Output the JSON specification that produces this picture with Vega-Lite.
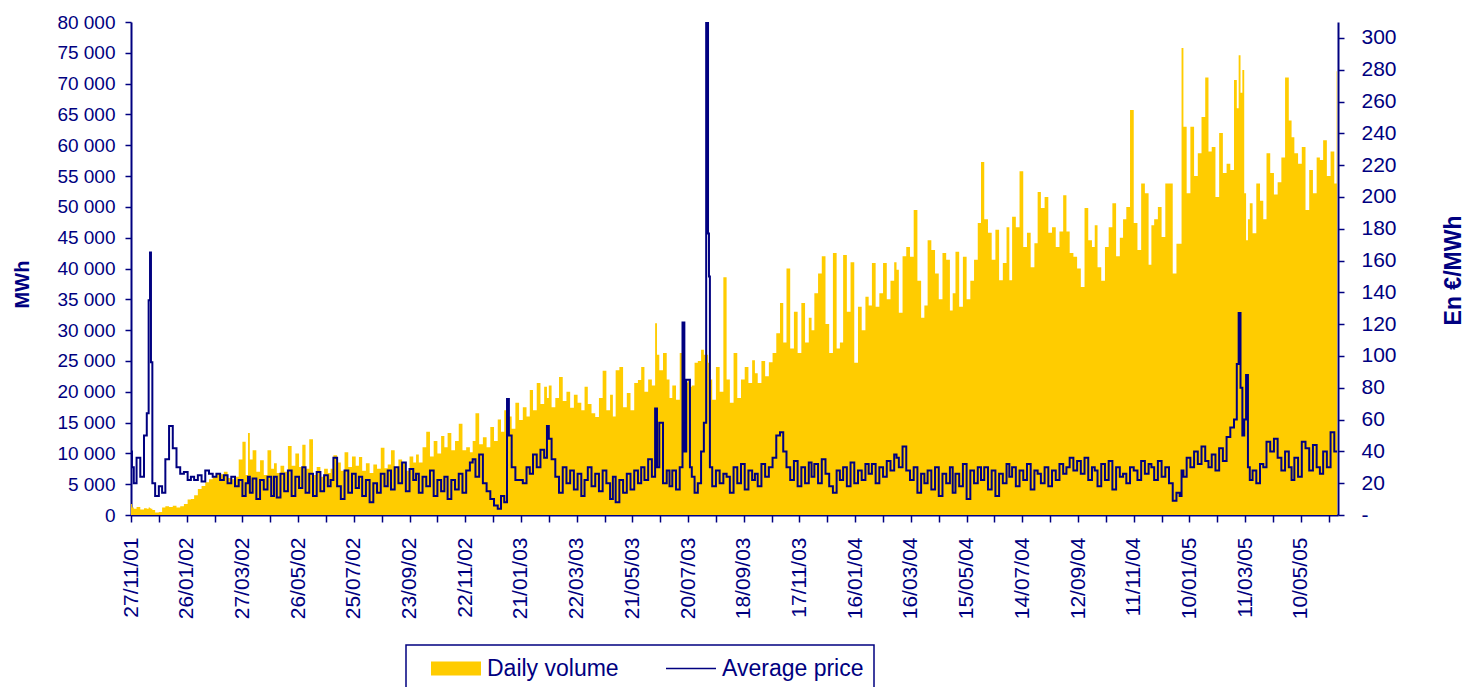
{
  "$schema": "https://vega.github.io/schema/vega-lite/v6.json",
  "autosize": {"type": "none"},
  "width": 1207,
  "height": 493,
  "padding": {"left": 131, "top": 22, "right": 127, "bottom": 172},
  "background": "#ffffff",
  "config": {
    "view": {"stroke": null},
    "legend": {"strokeWidth": 1.5},
    "axis": {"domainColor": "#000080", "domainWidth": 2, "tickColor": "#000080", "tickWidth": 1.5, "tickSize": 6, "labelColor": "#000080", "labelFont": "Liberation Sans", "titleColor": "#000080", "titleFont": "Liberation Sans", "grid": false}
  },
  "data": {"values": [
    {"d":"2001-11-27","v":1800,"p":40},{"d":"2001-11-29","v":1200,"p":30},
    {"d":"2001-12-01","v":1000,"p":20},{"d":"2001-12-05","v":1300,"p":36},{"d":"2001-12-09","v":900,"p":24},{"d":"2001-12-13","v":1100,"p":50},{"d":"2001-12-15","v":1000,"p":64},{"d":"2001-12-17","v":1200,"p":135},{"d":"2001-12-18","v":1100,"p":165},{"d":"2001-12-19","v":1000,"p":96},{"d":"2001-12-21","v":800,"p":20},{"d":"2001-12-25","v":400,"p":12},{"d":"2001-12-29","v":500,"p":18},
    {"d":"2002-01-01","v":1200,"p":14},{"d":"2002-01-05","v":1400,"p":35},{"d":"2002-01-09","v":1300,"p":56},{"d":"2002-01-13","v":1500,"p":42},{"d":"2002-01-17","v":1200,"p":30},{"d":"2002-01-21","v":1400,"p":26},{"d":"2002-01-25","v":1800,"p":27},{"d":"2002-01-29","v":2500,"p":22},
    {"d":"2002-02-01","v":2600,"p":24},{"d":"2002-02-05","v":3200,"p":22},{"d":"2002-02-09","v":4200,"p":25},{"d":"2002-02-13","v":4700,"p":21},{"d":"2002-02-17","v":5300,"p":28},{"d":"2002-02-21","v":5800,"p":26},{"d":"2002-02-25","v":6200,"p":24},
    {"d":"2002-03-01","v":6800,"p":26},{"d":"2002-03-05","v":6600,"p":22},{"d":"2002-03-09","v":7000,"p":25},{"d":"2002-03-13","v":6000,"p":20},{"d":"2002-03-17","v":5800,"p":24},{"d":"2002-03-21","v":6200,"p":18},{"d":"2002-03-25","v":9000,"p":22},{"d":"2002-03-29","v":11900,"p":12},
    {"d":"2002-04-01","v":6500,"p":20},{"d":"2002-04-03","v":13300,"p":24},{"d":"2002-04-05","v":9000,"p":14},{"d":"2002-04-09","v":10500,"p":23},{"d":"2002-04-13","v":7000,"p":10},{"d":"2002-04-17","v":8900,"p":22},{"d":"2002-04-21","v":6500,"p":16},{"d":"2002-04-25","v":10500,"p":24},{"d":"2002-04-29","v":7500,"p":12},
    {"d":"2002-05-01","v":8400,"p":24},{"d":"2002-05-05","v":6800,"p":11},{"d":"2002-05-09","v":8000,"p":26},{"d":"2002-05-13","v":7000,"p":15},{"d":"2002-05-17","v":11200,"p":28},{"d":"2002-05-21","v":8000,"p":12},{"d":"2002-05-25","v":10000,"p":24},{"d":"2002-05-29","v":7800,"p":17},
    {"d":"2002-06-01","v":11400,"p":30},{"d":"2002-06-05","v":7500,"p":14},{"d":"2002-06-09","v":12300,"p":26},{"d":"2002-06-13","v":6500,"p":12},{"d":"2002-06-17","v":7800,"p":27},{"d":"2002-06-21","v":6200,"p":15},{"d":"2002-06-25","v":7500,"p":25},{"d":"2002-06-29","v":6800,"p":18},
    {"d":"2002-07-01","v":7500,"p":22},{"d":"2002-07-05","v":9700,"p":36},{"d":"2002-07-09","v":8500,"p":18},{"d":"2002-07-13","v":7200,"p":10},{"d":"2002-07-17","v":10200,"p":28},{"d":"2002-07-21","v":7800,"p":14},{"d":"2002-07-25","v":9500,"p":26},{"d":"2002-07-29","v":8000,"p":17},
    {"d":"2002-08-01","v":9400,"p":24},{"d":"2002-08-05","v":7200,"p":12},{"d":"2002-08-09","v":8400,"p":22},{"d":"2002-08-13","v":6800,"p":8},{"d":"2002-08-17","v":8200,"p":20},{"d":"2002-08-21","v":7500,"p":14},{"d":"2002-08-25","v":10900,"p":26},{"d":"2002-08-29","v":7600,"p":18},
    {"d":"2002-09-01","v":8200,"p":28},{"d":"2002-09-05","v":10500,"p":16},{"d":"2002-09-09","v":7600,"p":30},{"d":"2002-09-13","v":9000,"p":20},{"d":"2002-09-17","v":8400,"p":33},{"d":"2002-09-21","v":7200,"p":15},{"d":"2002-09-25","v":9500,"p":29},{"d":"2002-09-29","v":8500,"p":22},
    {"d":"2002-10-01","v":9800,"p":26},{"d":"2002-10-05","v":8500,"p":14},{"d":"2002-10-09","v":11000,"p":24},{"d":"2002-10-13","v":13500,"p":18},{"d":"2002-10-17","v":9500,"p":28},{"d":"2002-10-21","v":12000,"p":12},{"d":"2002-10-25","v":10000,"p":22},{"d":"2002-10-29","v":12800,"p":15},
    {"d":"2002-11-01","v":11000,"p":24},{"d":"2002-11-05","v":13300,"p":10},{"d":"2002-11-09","v":10500,"p":22},{"d":"2002-11-13","v":12000,"p":16},{"d":"2002-11-17","v":14800,"p":26},{"d":"2002-11-21","v":10500,"p":14},{"d":"2002-11-25","v":11000,"p":28},{"d":"2002-11-29","v":10200,"p":33},
    {"d":"2002-12-01","v":12000,"p":35},{"d":"2002-12-05","v":16500,"p":24},{"d":"2002-12-09","v":11500,"p":38},{"d":"2002-12-13","v":12600,"p":20},{"d":"2002-12-17","v":11000,"p":15},{"d":"2002-12-21","v":14300,"p":10},{"d":"2002-12-25","v":12000,"p":6},{"d":"2002-12-29","v":15500,"p":4},
    {"d":"2003-01-01","v":13500,"p":12},{"d":"2003-01-05","v":17000,"p":8},{"d":"2003-01-07","v":15000,"p":73},{"d":"2003-01-09","v":16000,"p":50},{"d":"2003-01-13","v":14000,"p":30},{"d":"2003-01-17","v":18200,"p":22},{"d":"2003-01-21","v":15400,"p":22},{"d":"2003-01-25","v":17500,"p":20},{"d":"2003-01-29","v":16000,"p":30},
    {"d":"2003-02-01","v":20300,"p":26},{"d":"2003-02-05","v":17000,"p":38},{"d":"2003-02-09","v":21400,"p":30},{"d":"2003-02-13","v":18000,"p":41},{"d":"2003-02-17","v":20800,"p":36},{"d":"2003-02-19","v":19000,"p":56},{"d":"2003-02-21","v":21000,"p":48},{"d":"2003-02-25","v":17500,"p":35},
    {"d":"2003-03-01","v":19000,"p":24},{"d":"2003-03-05","v":22400,"p":14},{"d":"2003-03-09","v":18500,"p":30},{"d":"2003-03-13","v":20000,"p":20},{"d":"2003-03-17","v":17400,"p":28},{"d":"2003-03-21","v":19500,"p":16},{"d":"2003-03-25","v":18200,"p":26},{"d":"2003-03-29","v":17000,"p":12},
    {"d":"2003-04-01","v":20800,"p":22},{"d":"2003-04-05","v":18000,"p":30},{"d":"2003-04-09","v":16500,"p":18},{"d":"2003-04-13","v":15900,"p":26},{"d":"2003-04-17","v":19000,"p":15},{"d":"2003-04-21","v":23400,"p":28},{"d":"2003-04-25","v":17000,"p":20},{"d":"2003-04-29","v":19500,"p":10},
    {"d":"2003-05-01","v":16000,"p":24},{"d":"2003-05-05","v":23500,"p":8},{"d":"2003-05-09","v":24000,"p":22},{"d":"2003-05-13","v":17500,"p":14},{"d":"2003-05-17","v":19800,"p":26},{"d":"2003-05-21","v":17000,"p":16},{"d":"2003-05-25","v":21400,"p":28},{"d":"2003-05-29","v":21900,"p":20},
    {"d":"2003-06-01","v":24000,"p":30},{"d":"2003-06-05","v":20000,"p":22},{"d":"2003-06-09","v":22000,"p":35},{"d":"2003-06-13","v":21000,"p":24},{"d":"2003-06-16","v":31100,"p":67},{"d":"2003-06-17","v":26000,"p":30},{"d":"2003-06-21","v":23500,"p":58},{"d":"2003-06-25","v":26300,"p":20},{"d":"2003-06-29","v":22000,"p":28},
    {"d":"2003-07-01","v":19000,"p":18},{"d":"2003-07-05","v":21000,"p":28},{"d":"2003-07-09","v":18700,"p":16},{"d":"2003-07-13","v":26300,"p":30},{"d":"2003-07-15","v":21000,"p":121},{"d":"2003-07-17","v":20800,"p":40},{"d":"2003-07-19","v":21500,"p":85},{"d":"2003-07-21","v":21900,"p":85},{"d":"2003-07-23","v":20800,"p":30},{"d":"2003-07-25","v":21000,"p":24},{"d":"2003-07-29","v":24700,"p":14},
    {"d":"2003-08-01","v":25000,"p":20},{"d":"2003-08-05","v":26800,"p":40},{"d":"2003-08-07","v":26000,"p":58},{"d":"2003-08-10","v":26000,"p":310},{"d":"2003-08-11","v":24700,"p":177},{"d":"2003-08-12","v":23000,"p":150},{"d":"2003-08-13","v":22000,"p":30},{"d":"2003-08-17","v":18700,"p":18},{"d":"2003-08-21","v":24000,"p":28},{"d":"2003-08-25","v":20000,"p":20},{"d":"2003-08-29","v":38600,"p":26},
    {"d":"2003-09-01","v":22000,"p":24},{"d":"2003-09-05","v":18200,"p":14},{"d":"2003-09-09","v":26300,"p":30},{"d":"2003-09-13","v":19000,"p":20},{"d":"2003-09-17","v":22000,"p":32},{"d":"2003-09-21","v":24000,"p":16},{"d":"2003-09-25","v":21400,"p":28},{"d":"2003-09-29","v":25100,"p":22},
    {"d":"2003-10-01","v":23000,"p":26},{"d":"2003-10-05","v":21400,"p":18},{"d":"2003-10-09","v":25000,"p":32},{"d":"2003-10-13","v":22500,"p":24},{"d":"2003-10-17","v":24800,"p":30},{"d":"2003-10-21","v":26300,"p":36},{"d":"2003-10-25","v":29500,"p":50},{"d":"2003-10-29","v":34400,"p":52},
    {"d":"2003-11-01","v":28000,"p":40},{"d":"2003-11-05","v":40000,"p":30},{"d":"2003-11-09","v":27000,"p":22},{"d":"2003-11-13","v":33000,"p":34},{"d":"2003-11-17","v":26300,"p":18},{"d":"2003-11-21","v":34400,"p":30},{"d":"2003-11-25","v":28000,"p":20},{"d":"2003-11-29","v":32000,"p":33},
    {"d":"2003-12-01","v":30000,"p":24},{"d":"2003-12-05","v":36000,"p":32},{"d":"2003-12-09","v":39200,"p":20},{"d":"2003-12-13","v":42000,"p":35},{"d":"2003-12-17","v":31000,"p":26},{"d":"2003-12-21","v":26300,"p":18},{"d":"2003-12-25","v":42500,"p":14},{"d":"2003-12-29","v":27000,"p":28},
    {"d":"2004-01-01","v":28000,"p":22},{"d":"2004-01-05","v":42200,"p":30},{"d":"2004-01-09","v":33000,"p":18},{"d":"2004-01-13","v":41000,"p":33},{"d":"2004-01-17","v":24700,"p":20},{"d":"2004-01-21","v":33800,"p":28},{"d":"2004-01-25","v":30000,"p":22},{"d":"2004-01-29","v":35400,"p":32},
    {"d":"2004-02-01","v":34000,"p":26},{"d":"2004-02-05","v":40900,"p":32},{"d":"2004-02-09","v":33800,"p":20},{"d":"2004-02-13","v":36000,"p":30},{"d":"2004-02-17","v":40900,"p":24},{"d":"2004-02-21","v":35000,"p":34},{"d":"2004-02-25","v":38000,"p":28},{"d":"2004-02-29","v":41000,"p":38},
    {"d":"2004-03-01","v":39800,"p":36},{"d":"2004-03-05","v":32800,"p":30},{"d":"2004-03-09","v":42000,"p":43},{"d":"2004-03-13","v":43500,"p":28},{"d":"2004-03-17","v":41900,"p":22},{"d":"2004-03-21","v":49500,"p":30},{"d":"2004-03-25","v":38000,"p":14},{"d":"2004-03-29","v":32000,"p":26},
    {"d":"2004-04-01","v":34000,"p":20},{"d":"2004-04-05","v":44600,"p":28},{"d":"2004-04-09","v":43000,"p":16},{"d":"2004-04-13","v":39200,"p":30},{"d":"2004-04-17","v":35000,"p":12},{"d":"2004-04-21","v":42500,"p":26},{"d":"2004-04-25","v":41400,"p":20},{"d":"2004-04-29","v":33200,"p":30},
    {"d":"2004-05-01","v":36000,"p":14},{"d":"2004-05-05","v":42700,"p":26},{"d":"2004-05-09","v":33800,"p":18},{"d":"2004-05-13","v":41900,"p":32},{"d":"2004-05-17","v":35000,"p":10},{"d":"2004-05-21","v":38000,"p":28},{"d":"2004-05-25","v":41400,"p":20},{"d":"2004-05-29","v":47400,"p":30},
    {"d":"2004-06-01","v":57300,"p":22},{"d":"2004-06-05","v":48000,"p":30},{"d":"2004-06-09","v":45800,"p":16},{"d":"2004-06-13","v":41400,"p":28},{"d":"2004-06-17","v":46300,"p":12},{"d":"2004-06-21","v":38100,"p":26},{"d":"2004-06-25","v":40900,"p":20},{"d":"2004-06-29","v":46700,"p":32},
    {"d":"2004-07-01","v":38100,"p":24},{"d":"2004-07-05","v":48400,"p":30},{"d":"2004-07-09","v":46700,"p":18},{"d":"2004-07-13","v":55800,"p":28},{"d":"2004-07-17","v":43500,"p":22},{"d":"2004-07-21","v":45800,"p":32},{"d":"2004-07-25","v":40200,"p":16},{"d":"2004-07-29","v":44100,"p":28},
    {"d":"2004-08-01","v":52400,"p":26},{"d":"2004-08-05","v":49800,"p":20},{"d":"2004-08-09","v":51600,"p":30},{"d":"2004-08-13","v":45800,"p":18},{"d":"2004-08-17","v":46700,"p":28},{"d":"2004-08-21","v":43500,"p":22},{"d":"2004-08-25","v":46000,"p":32},{"d":"2004-08-29","v":51900,"p":26},
    {"d":"2004-09-01","v":46000,"p":30},{"d":"2004-09-05","v":42500,"p":36},{"d":"2004-09-09","v":41900,"p":28},{"d":"2004-09-13","v":40000,"p":34},{"d":"2004-09-17","v":37000,"p":26},{"d":"2004-09-21","v":49800,"p":36},{"d":"2004-09-25","v":44600,"p":22},{"d":"2004-09-29","v":43500,"p":30},
    {"d":"2004-10-01","v":47000,"p":28},{"d":"2004-10-05","v":40200,"p":18},{"d":"2004-10-09","v":38000,"p":32},{"d":"2004-10-13","v":43500,"p":22},{"d":"2004-10-17","v":46700,"p":34},{"d":"2004-10-21","v":50600,"p":16},{"d":"2004-10-25","v":42000,"p":30},{"d":"2004-10-29","v":45000,"p":24},
    {"d":"2004-11-01","v":48000,"p":26},{"d":"2004-11-05","v":50000,"p":20},{"d":"2004-11-09","v":65700,"p":30},{"d":"2004-11-13","v":47400,"p":28},{"d":"2004-11-17","v":43000,"p":22},{"d":"2004-11-21","v":53800,"p":34},{"d":"2004-11-25","v":52200,"p":26},{"d":"2004-11-29","v":40600,"p":32},
    {"d":"2004-12-01","v":47000,"p":30},{"d":"2004-12-05","v":48000,"p":22},{"d":"2004-12-09","v":50000,"p":34},{"d":"2004-12-13","v":45100,"p":24},{"d":"2004-12-17","v":53800,"p":30},{"d":"2004-12-21","v":53800,"p":20},{"d":"2004-12-25","v":39200,"p":9},{"d":"2004-12-29","v":44000,"p":14},
    {"d":"2005-01-01","v":44000,"p":12},{"d":"2005-01-02","v":75800,"p":28},{"d":"2005-01-05","v":63000,"p":24},{"d":"2005-01-09","v":52200,"p":36},{"d":"2005-01-13","v":63000,"p":30},{"d":"2005-01-17","v":55000,"p":40},{"d":"2005-01-21","v":58700,"p":32},{"d":"2005-01-25","v":64600,"p":43},{"d":"2005-01-29","v":71000,"p":34},
    {"d":"2005-02-01","v":59000,"p":30},{"d":"2005-02-05","v":59700,"p":38},{"d":"2005-02-09","v":51600,"p":28},{"d":"2005-02-13","v":62000,"p":42},{"d":"2005-02-17","v":55500,"p":34},{"d":"2005-02-21","v":57000,"p":49},{"d":"2005-02-25","v":56000,"p":55},
    {"d":"2005-03-01","v":70600,"p":60},{"d":"2005-03-03","v":66000,"p":95},{"d":"2005-03-05","v":74600,"p":127},{"d":"2005-03-07","v":68500,"p":80},{"d":"2005-03-09","v":72200,"p":50},{"d":"2005-03-11","v":52200,"p":60},{"d":"2005-03-13","v":44600,"p":88},{"d":"2005-03-15","v":48000,"p":30},{"d":"2005-03-17","v":50600,"p":22},{"d":"2005-03-21","v":45700,"p":28},{"d":"2005-03-25","v":53800,"p":20},{"d":"2005-03-29","v":51000,"p":32},
    {"d":"2005-04-01","v":48000,"p":30},{"d":"2005-04-05","v":58700,"p":46},{"d":"2005-04-09","v":55500,"p":40},{"d":"2005-04-13","v":52000,"p":48},{"d":"2005-04-17","v":54000,"p":36},{"d":"2005-04-21","v":58000,"p":28},{"d":"2005-04-25","v":71000,"p":40},{"d":"2005-04-29","v":64000,"p":30},
    {"d":"2005-05-01","v":61300,"p":22},{"d":"2005-05-05","v":58700,"p":36},{"d":"2005-05-09","v":57000,"p":24},{"d":"2005-05-13","v":59700,"p":46},{"d":"2005-05-17","v":49500,"p":42},{"d":"2005-05-21","v":56000,"p":28},{"d":"2005-05-25","v":52200,"p":44},{"d":"2005-05-29","v":58000,"p":30},
    {"d":"2005-06-01","v":57600,"p":26},{"d":"2005-06-05","v":60800,"p":40},{"d":"2005-06-09","v":55000,"p":30},{"d":"2005-06-13","v":59000,"p":52},{"d":"2005-06-17","v":53800,"p":40},{"d":"2005-06-18","v":72000,"p":40}
  ]},
  "encoding": {
    "x": {
      "field": "d", "type": "temporal",
      "scale": {"type": "utc", "domain": [{"year": 2001, "month": 11, "date": 27, "utc": true}, {"year": 2005, "month": 6, "date": 19, "utc": true}]},
      "axis": {
        "title": null, "labelAngle": 270, "labelFontSize": 21, "labelPadding": 15, "tickSize": 7,
        "labelOverlap": false, "labelFlush": false, "labelBound": false,
        "labelExpr": "(round((datum.value - utc(2001,10,27)) / 86400000) % 60) === 0 ? utcFormat(datum.value, '%d/%m/%y') : ''",
        "values": [
          {"year":2001,"month":11,"date":27,"utc":true},{"year":2001,"month":12,"date":27,"utc":true},
          {"year":2002,"month":1,"date":26,"utc":true},{"year":2002,"month":2,"date":25,"utc":true},{"year":2002,"month":3,"date":27,"utc":true},{"year":2002,"month":4,"date":26,"utc":true},{"year":2002,"month":5,"date":26,"utc":true},{"year":2002,"month":6,"date":25,"utc":true},{"year":2002,"month":7,"date":25,"utc":true},{"year":2002,"month":8,"date":24,"utc":true},{"year":2002,"month":9,"date":23,"utc":true},{"year":2002,"month":10,"date":23,"utc":true},{"year":2002,"month":11,"date":22,"utc":true},{"year":2002,"month":12,"date":22,"utc":true},
          {"year":2003,"month":1,"date":21,"utc":true},{"year":2003,"month":2,"date":20,"utc":true},{"year":2003,"month":3,"date":22,"utc":true},{"year":2003,"month":4,"date":21,"utc":true},{"year":2003,"month":5,"date":21,"utc":true},{"year":2003,"month":6,"date":20,"utc":true},{"year":2003,"month":7,"date":20,"utc":true},{"year":2003,"month":8,"date":19,"utc":true},{"year":2003,"month":9,"date":18,"utc":true},{"year":2003,"month":10,"date":18,"utc":true},{"year":2003,"month":11,"date":17,"utc":true},{"year":2003,"month":12,"date":17,"utc":true},
          {"year":2004,"month":1,"date":16,"utc":true},{"year":2004,"month":2,"date":15,"utc":true},{"year":2004,"month":3,"date":16,"utc":true},{"year":2004,"month":4,"date":15,"utc":true},{"year":2004,"month":5,"date":15,"utc":true},{"year":2004,"month":6,"date":14,"utc":true},{"year":2004,"month":7,"date":14,"utc":true},{"year":2004,"month":8,"date":13,"utc":true},{"year":2004,"month":9,"date":12,"utc":true},{"year":2004,"month":10,"date":12,"utc":true},{"year":2004,"month":11,"date":11,"utc":true},{"year":2004,"month":12,"date":11,"utc":true},
          {"year":2005,"month":1,"date":10,"utc":true},{"year":2005,"month":2,"date":9,"utc":true},{"year":2005,"month":3,"date":11,"utc":true},{"year":2005,"month":4,"date":10,"utc":true},{"year":2005,"month":5,"date":10,"utc":true},{"year":2005,"month":6,"date":9,"utc":true}
        ]
      }
    }
  },
  "layer": [
    {
      "mark": {"type": "area", "interpolate": "step", "opacity": 1},
      "encoding": {
        "y": {
          "field": "v", "type": "quantitative",
          "scale": {"domain": [0, 80000], "nice": false, "zero": true},
          "axis": {
            "orient": "left", "title": "MWh",
            "values": [0,5000,10000,15000,20000,25000,30000,35000,40000,45000,50000,55000,60000,65000,70000,75000,80000],
            "labelExpr": "replace(format(datum.value, ','), ',', ' ')",
            "labelFontSize": 19, "labelPadding": 10,
            "titleFontSize": 20, "titleFontWeight": "bold", "titleX": -109, "titleY": 262, "titleAngle": 270, "titleAlign": "center", "titleBaseline": "middle"
          }
        },
        "color": {
          "datum": "Daily volume", "type": "nominal",
          "scale": {"domain": ["Daily volume"], "range": ["#FFCC00"]},
          "legend": {
            "orient": "none", "legendX": 275, "legendY": 623, "direction": "horizontal", "title": null,
            "labelFont": "Liberation Sans", "labelFontSize": 23, "labelColor": "#000080",
            "symbolType": "M-1,-0.56H3V0.56H-1Z", "symbolSize": 625, "symbolOffset": 14, "labelOffset": 30,
            "padding": 10
          }
        }
      }
    },
    {
      "mark": {"type": "line", "interpolate": "step", "strokeWidth": 2, "clip": true},
      "encoding": {
        "y": {
          "field": "p", "type": "quantitative",
          "scale": {"domain": [0, 310], "nice": false, "zero": true},
          "axis": {
            "orient": "right", "title": "En €/MWh",
            "values": [0,20,40,60,80,100,120,140,160,180,200,220,240,260,280,300],
            "labelExpr": "datum.value === 0 ? '-' : datum.label",
            "labelFontSize": 21, "labelPadding": 17,
            "titleFontSize": 23, "titleFontWeight": "bold", "titleX": 115, "titleY": 248, "titleAngle": 270, "titleAlign": "center", "titleBaseline": "middle"
          }
        },
        "color": {
          "datum": "Average price", "type": "nominal",
          "scale": {"domain": ["Average price"], "range": ["#000080"]},
          "legend": {
            "orient": "none", "legendX": 275, "legendY": 623, "direction": "horizontal", "title": null,
            "labelFont": "Liberation Sans", "labelFontSize": 23, "labelColor": "#000080", "labelLimit": 400,
            "labelExpr": "datum.label + '\u00a0\u00a0\u00a0'",
            "symbolType": "M-1,0H3", "symbolSize": 625, "symbolStrokeWidth": 1.5, "symbolOffset": 249, "labelOffset": 30,
            "padding": 10, "strokeColor": "#000080"
          }
        }
      }
    }
  ],
  "resolve": {"scale": {"y": "independent", "color": "independent"}, "axis": {"y": "independent"}}
}
